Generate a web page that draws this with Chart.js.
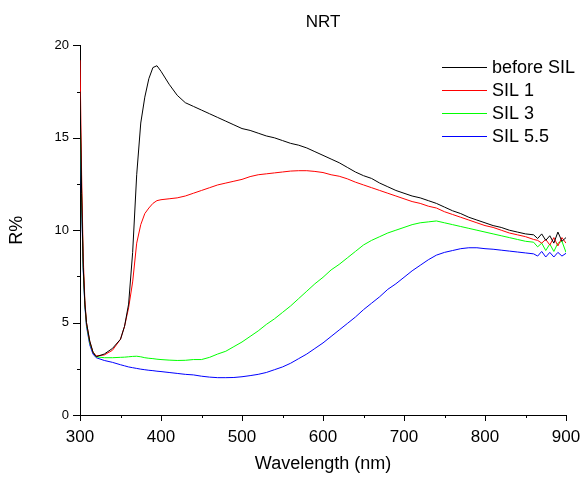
<!DOCTYPE html>
<html lang="en">
<head>
<meta charset="UTF-8">
<title>NRT</title>
<script src="https://cdn.jsdelivr.net/npm/chart.js"></script>
<style>
  body { margin: 0; background: #fff; }
</style>
</head>
<body>
<canvas id="chart" width="585" height="477"></canvas>
<script>
    // Длины волн (нм)
    const wavelength = [300, 302, 304, 306, 308, 312, 316, 320, 330, 340, 350, 355, 360, 365, 370, 375, 380, 385, 390, 395,
        400, 410, 420, 430, 440, 450, 460, 470, 480, 490, 500, 510, 520, 530, 540, 550, 560, 570, 580, 590,
        600, 610, 620, 630, 640, 650, 660, 670, 680, 690, 700, 710, 720, 730, 740, 750, 760, 770, 780, 790,
        800, 810, 820, 830, 840, 850, 860, 865, 870, 875, 880, 885, 890, 895, 900];

    // R% для каждого образца
    const beforeSil = [17.5, 12, 8.0, 6.0, 5.0, 4.0, 3.4, 3.15, 3.3, 3.6, 4.1, 4.8, 6.0, 8.8, 13.0, 15.8, 17.2, 18.2, 18.8, 18.9,
        18.6, 17.9, 17.3, 16.9, 16.7, 16.5, 16.3, 16.1, 15.9, 15.7, 15.5, 15.4, 15.25, 15.1, 15.0, 14.85, 14.7, 14.6, 14.45, 14.25,
        14.05, 13.85, 13.65, 13.4, 13.15, 12.95, 12.8, 12.55, 12.35, 12.15, 12.0, 11.85, 11.75, 11.6, 11.45, 11.25, 11.05, 10.9, 10.7, 10.55,
        10.4, 10.25, 10.15, 10.0, 9.9, 9.8, 9.75, 9.55, 9.8, 9.45, 9.7, 9.3, 9.9, 9.4, 9.6];
    const sil1 = [19.2, 13, 8.5, 6.2, 5.0, 4.0, 3.4, 3.2, 3.25, 3.5, 4.1, 4.8, 5.8, 7.2, 9.3, 10.3, 10.9, 11.2, 11.45, 11.6,
        11.65, 11.7, 11.75, 11.85, 12.0, 12.15, 12.3, 12.45, 12.55, 12.65, 12.75, 12.9, 13.0, 13.05, 13.1, 13.15, 13.2, 13.22, 13.22, 13.18,
        13.12, 13.0, 12.92, 12.78, 12.6, 12.45, 12.3, 12.15, 12.0, 11.85, 11.7, 11.55, 11.45, 11.3, 11.2, 11.0, 10.85, 10.7, 10.55, 10.4,
        10.25, 10.15, 10.0, 9.85, 9.75, 9.65, 9.5, 9.45, 9.3, 9.5, 9.2, 9.6, 9.15, 9.6, 9.3];
    const sil3 = [16.8, 12, 8, 6, 4.9, 3.9, 3.4, 3.15, 3.1, 3.1, 3.12, 3.13, 3.15, 3.17, 3.18, 3.15, 3.1, 3.07, 3.05, 3.02,
        3.0, 2.97, 2.95, 2.96, 3.0, 3.0, 3.12, 3.3, 3.45, 3.7, 3.95, 4.25, 4.55, 4.9, 5.2, 5.55, 5.9, 6.3, 6.7, 7.1,
        7.45, 7.85, 8.15, 8.5, 8.85, 9.2, 9.45, 9.65, 9.85, 10.0, 10.15, 10.3, 10.4, 10.45, 10.5, 10.4, 10.3, 10.2, 10.1, 10.0,
        9.9, 9.8, 9.7, 9.6, 9.5, 9.4, 9.35, 9.1, 9.3, 8.9, 9.25, 8.85, 9.3, 9.4, 8.8];
    const sil55 = [16.3, 11.5, 7.8, 5.9, 4.8, 3.8, 3.3, 3.1, 2.95, 2.85, 2.72, 2.66, 2.6, 2.56, 2.52, 2.48, 2.45, 2.42, 2.4, 2.37,
        2.35, 2.3, 2.25, 2.2, 2.17, 2.1, 2.05, 2.02, 2.02, 2.03, 2.07, 2.13, 2.2, 2.3, 2.45, 2.6, 2.8, 3.05, 3.3, 3.6,
        3.9, 4.25, 4.6, 4.95, 5.3, 5.7, 6.05, 6.4, 6.8, 7.1, 7.45, 7.8, 8.1, 8.4, 8.65, 8.8, 8.9, 9.0, 9.05, 9.05,
        9.0, 8.97, 8.92, 8.87, 8.82, 8.77, 8.72, 8.6, 8.85, 8.55, 8.8, 8.55, 8.8, 8.6, 8.75];

    const seriesNames = ['before SIL', 'SIL 1', 'SIL 3', 'SIL 5.5'];
    const seriesColors = ['#000000', '#ff0000', '#00ff00', '#0000ff'];
    const seriesValues = [beforeSil, sil1, sil3, sil55];

    Chart.defaults.font.family = "'Liberation Sans', Arial, sans-serif";
    Chart.defaults.color = '#000';

    const datasets = seriesValues.map((vals, i) => ({
        label: seriesNames[i],
        data: vals.map((v, j) => ({ x: wavelength[j], y: v })),
        borderColor: seriesColors[i],
        borderWidth: 1,
        pointRadius: 0,
        tension: 0,
        fill: false
    }));

    // засечки: основные и промежуточные
    const tickMarks = {
        id: 'tickMarks',
        afterDraw(chart) {
            const ctx = chart.ctx;
            const xs = chart.scales.x, ys = chart.scales.y;
            const area = chart.chartArea;
            ctx.save();
            ctx.strokeStyle = '#000';
            ctx.lineWidth = 1;
            ctx.beginPath();
            for (let v = xs.min; v <= xs.max; v += 50) {
                const px = Math.round(xs.getPixelForValue(v)) + 0.5;
                const len = v % 100 === 0 ? 6 : 3;
                ctx.moveTo(px, area.bottom);
                ctx.lineTo(px, area.bottom + len);
            }
            for (let v = ys.min; v <= ys.max; v += 2.5) {
                const py = Math.round(ys.getPixelForValue(v)) + 0.5;
                const len = v % 5 === 0 ? 7 : 3;
                ctx.moveTo(area.left, py);
                ctx.lineTo(area.left - len, py);
            }
            ctx.stroke();
            ctx.restore();
        }
    };

    // легенда внутри области графика
    const innerLegend = {
        id: 'innerLegend',
        afterDraw(chart) {
            const ctx = chart.ctx;
            const area = chart.chartArea;
            const x0 = area.right - 124;
            const y0 = area.top + 22;
            ctx.save();
            ctx.font = "18px 'Liberation Sans', Arial, sans-serif";
            ctx.textBaseline = 'middle';
            chart.data.datasets.forEach((ds, i) => {
                const y = Math.round(y0 + i * 23) + 0.5;
                ctx.strokeStyle = ds.borderColor;
                ctx.lineWidth = 1;
                ctx.beginPath();
                ctx.moveTo(x0, y);
                ctx.lineTo(x0 + 45, y);
                ctx.stroke();
                ctx.fillStyle = '#000';
                ctx.fillText(ds.label, x0 + 50, y + 1);
            });
            ctx.restore();
        }
    };

    new Chart(document.getElementById('chart').getContext('2d'), {
        type: 'line',
        data: { datasets },
        options: {
            responsive: false,
            animation: false,
            layout: { padding: { left: 0, right: 19, top: 0, bottom: 0 } },
            plugins: {
                legend: { display: false },
                tooltip: { enabled: false },
                title: {
                    display: true,
                    fullSize: false,
                    text: 'NRT',
                    font: { size: 17, weight: 'normal' },
                    color: '#000',
                    padding: { top: 12, bottom: 13 }
                }
            },
            scales: {
                x: {
                    type: 'linear',
                    min: 300,
                    max: 900,
                    afterFit(scale) {
                        scale.height = 62;
                        scale.paddingLeft = 0;
                        scale.paddingRight = 0;
                    },
                    grid: { display: false, drawTicks: false },
                    border: { display: true, color: '#000', width: 1 },
                    ticks: { stepSize: 100, padding: 12, font: { size: 17 }, color: '#000', maxRotation: 0 },
                    title: { display: true, text: 'Wavelength (nm)', font: { size: 18 }, color: '#000', padding: { top: 0, bottom: 2 } }
                },
                y: {
                    min: 0,
                    max: 20,
                    afterFit(scale) {
                        scale.width = 80;
                        scale.paddingTop = 0;
                        scale.paddingBottom = 0;
                    },
                    grid: { display: false, drawTicks: false },
                    border: { display: true, color: '#000', width: 1 },
                    ticks: { stepSize: 5, padding: 11, font: { size: 13 }, color: '#000' },
                    title: { display: true, text: 'R%', font: { size: 18 }, color: '#000', padding: { top: 6, bottom: 0 } }
                }
            }
        },
        plugins: [tickMarks, innerLegend]
    });
</script>
</body>
</html>
